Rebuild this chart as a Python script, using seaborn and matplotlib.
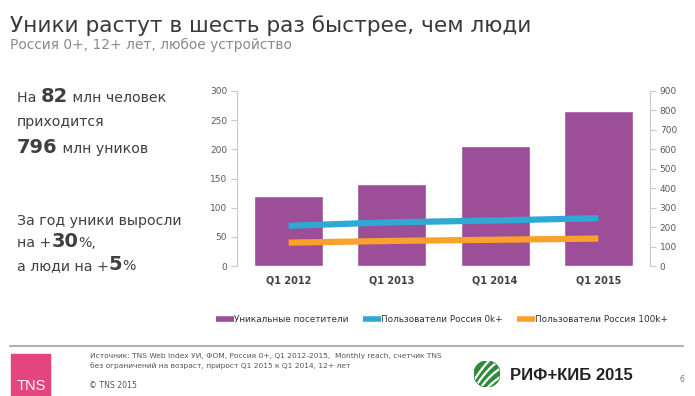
import numpy as np
import matplotlib.pyplot as plt
import seaborn as sns
from matplotlib.lines import Line2D
from matplotlib.patches import Rectangle, Circle

# data
quarters = ["Q1 2012", "Q1 2013", "Q1 2014", "Q1 2015"]
uniques = [361, 421, 615, 796]      # уникальные посетители, млн (правая ось)
users_0k = [69, 75, 78, 82]         # пользователи Россия 0k+, млн (левая ось)
users_100k = [40, 43, 45, 47]       # пользователи Россия 100k+, млн (левая ось)
series_names = ["Уникальные посетители", "Пользователи Россия 0k+", "Пользователи Россия 100k+"]

purple = "#9c4f98"
blue = "#2ea9d3"
orange = "#f8a22c"
dark = "#404040"
grey = "#595959"
W, H = 695, 396

sns.set_style("white")
plt.rcParams["font.family"] = ["DejaVu Sans"]

fig = plt.figure(figsize=(W / 100, H / 100), dpi=100)


def fx(x):
    return x / W


def fy(y):
    return 1 - y / H


# main chart: bars on the right axis, lines on the left axis
ax = fig.add_axes([fx(237), fy(266), fx(650) - fx(237), fy(91) - fy(266)])
sns.barplot(x=quarters, y=uniques, color=purple, width=0.67, saturation=1, ax=ax)

axl = ax.twinx()
sns.lineplot(x=np.arange(len(quarters)), y=users_0k, color=blue, lw=4.5,
             solid_capstyle="butt", ax=axl)
sns.lineplot(x=np.arange(len(quarters)), y=users_100k, color=orange, lw=4.5,
             solid_capstyle="butt", ax=axl)
axl.set_ylim(0, 300)
axl.set_yticks(range(0, 301, 50))
axl.yaxis.tick_left()
ax.set_ylim(0, 900)
ax.set_yticks(range(0, 901, 100))
ax.yaxis.tick_right()
ax.set_xlim(-0.5, len(quarters) - 0.5)

for a in (ax, axl):
    a.set_xlabel("")
    a.set_ylabel("")
    for s in a.spines.values():
        s.set_visible(False)
    a.tick_params(axis="y", direction="out", length=4, width=0.8, color="#c8c8c8",
                  labelsize=6.5, labelcolor=grey, pad=3)
ax.spines["right"].set_visible(True)
ax.spines["right"].set_color("#c8c8c8")
axl.spines["left"].set_visible(True)
axl.spines["left"].set_color("#c8c8c8")
ax.tick_params(axis="x", length=0, labelsize=7, labelcolor=dark, pad=7)
for lab in ax.get_xticklabels():
    lab.set_fontweight("bold")

handles = [Line2D([], [], color=c, lw=4, solid_capstyle="butt") for c in (purple, blue, orange)]
fig.legend(handles, series_names, loc="center", bbox_to_anchor=(fx(442), fy(320)),
           ncol=3, frameon=False, fontsize=6.4, handlelength=2.0, handletextpad=0.05,
           columnspacing=1.6, labelcolor="#333333")

# title
fig.text(fx(10), fy(32), "Уники растут в шесть раз быстрее, чем люди",
         fontsize=15.6, color="#3a3a3a", va="baseline")
fig.text(fx(10), fy(49), "Россия 0+, 12+ лет, любое устройство",
         fontsize=9.9, color="#8a8a8a", va="baseline")

# left side text with bold numbers
renderer = fig.canvas.get_renderer()


def rich_line(x, y, parts):
    for s, size, bold in parts:
        t = fig.text(fx(x), fy(y), s, fontsize=size, color=dark, va="baseline",
                     fontweight="bold" if bold else "normal")
        x = t.get_window_extent(renderer).x1


rich_line(17, 102, [("На ", 10.2, False), ("82", 14, True), (" млн человек", 10.2, False)])
rich_line(17, 126, [("приходится", 10.2, False)])
rich_line(17, 153, [("796", 14, True), (" млн уников", 10.2, False)])
rich_line(17, 225, [("За год уники выросли", 10.2, False)])
rich_line(17, 247, [("на +", 10.2, False), ("30", 14, True), ("%,", 10.2, False)])
rich_line(17, 270, [("а люди на +", 10.2, False), ("5", 14, True), ("%", 10.2, False)])

# footer
fig.add_artist(Line2D([fx(10), fx(683)], [fy(346), fy(346)], color="#b0b0b0", lw=1.5,
                      transform=fig.transFigure))
fig.add_artist(Rectangle((fx(11), 0), fx(50) - fx(11), fy(354), color="#e4457e",
                         transform=fig.transFigure))
fig.text(fx(31), fy(390), "TNS", fontsize=10.5, color="white", ha="center", va="baseline",
         family="Liberation Sans")
fig.text(fx(90), fy(358), "Источник: TNS Web Index УИ, ФОМ, Россия 0+, Q1 2012-2015,  Monthly reach, счетчик TNS",
         fontsize=5.4, color="#555555", va="baseline")
fig.text(fx(90), fy(368), "без ограничений на возраст, прирост Q1 2015 к Q1 2014, 12+ лет",
         fontsize=5.4, color="#555555", va="baseline")
fig.text(fx(89), fy(388), "© TNS 2015", fontsize=5.6, color="#555555", va="baseline")
fig.text(fx(510), fy(380), "РИФ+КИБ 2015", fontsize=12, fontweight="bold",
         color="#222222", va="baseline", family="Liberation Sans")
fig.text(fx(680), fy(382), "6", fontsize=5.5, color="#777777", va="baseline")

# logo ball
lg = fig.add_axes([fx(474), fy(387), fx(26), fy(0) - fy(26)])
lg.set_xlim(-1, 1)
lg.set_ylim(-1, 1)
lg.set_aspect("equal")
lg.axis("off")
ball = Circle((0, 0), 1, color="#2f8a3c")
lg.add_patch(ball)
for c in (-1.1, -0.45, 0.2, 0.85):
    t = np.linspace(-1.2, 1.2, 50)
    ln, = lg.plot(t, 1.1 * t + c - 0.25 * t ** 2, color="white", lw=1.6)
    ln.set_clip_path(ball)

fig.savefig("out.png", dpi=100, facecolor="white")
